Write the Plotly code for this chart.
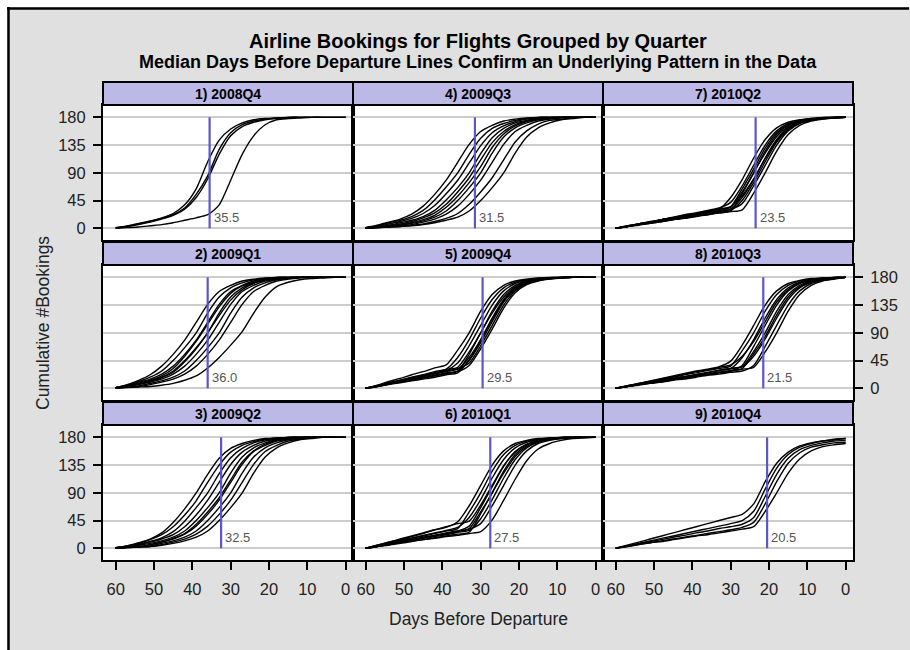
import plotly.graph_objects as go

# ---- data -------------------------------------------------------------
days = [60, 57, 54, 51, 48, 45, 42, 39, 36, 33, 30, 27, 24, 21, 18, 15, 12, 9, 6, 3, 0]

quarters = ["2008Q4", "2009Q1", "2009Q2", "2009Q3", "2009Q4",
            "2010Q1", "2010Q2", "2010Q3", "2010Q4"]

# median day on which a flight reaches half of its bookings
medians = [35.5, 36.0, 32.5, 31.5, 29.5, 27.5, 23.5, 21.5, 20.5]

y_ticks = [0, 45, 90, 135, 180]
x_ticks = [60, 50, 40, 30, 20, 10, 0]

bookings_2008Q4 = [
    [1, 4, 8, 12, 17, 24, 38, 64, 108, 143, 161, 171, 176, 178, 179, 180, 180, 180, 180, 180, 180],
    [1, 3, 7, 11, 16, 22, 33, 55, 85, 128, 155, 168, 174, 177, 179, 180, 180, 180, 180, 180, 180],
    [0, 3, 6, 10, 15, 21, 31, 50, 80, 120, 150, 165, 172, 176, 178, 179, 180, 180, 180, 180, 180],
    [0, 1, 2, 4, 6, 9, 13, 17, 22, 38, 78, 120, 150, 168, 176, 178, 179, 180, 180, 180, 180],
]

bookings_2009Q1 = [
    [1, 6, 13, 22, 36, 55, 78, 107, 136, 157, 167, 174, 177, 179, 180, 180, 180, 180, 180, 180, 180],
    [1, 5, 11, 18, 28, 45, 66, 90, 122, 148, 163, 171, 176, 178, 180, 180, 180, 180, 180, 180, 180],
    [1, 5, 10, 15, 23, 36, 55, 78, 107, 136, 157, 167, 174, 177, 179, 180, 180, 180, 180, 180, 180],
    [0, 4, 8, 13, 20, 32, 52, 76, 104, 132, 154, 166, 172, 176, 178, 179, 180, 180, 180, 180, 180],
    [1, 4, 8, 12, 18, 28, 45, 66, 90, 122, 148, 163, 171, 176, 178, 180, 180, 180, 180, 180, 180],
    [0, 3, 7, 11, 17, 26, 43, 64, 90, 118, 143, 160, 170, 175, 178, 179, 180, 180, 180, 180, 180],
    [1, 3, 6, 10, 15, 23, 36, 55, 78, 107, 136, 157, 167, 174, 177, 179, 180, 180, 180, 180, 180],
    [1, 2, 4, 8, 12, 18, 28, 45, 66, 90, 122, 148, 163, 171, 176, 178, 180, 180, 180, 180, 180],
    [0, 2, 3, 6, 10, 15, 23, 36, 55, 78, 107, 136, 157, 167, 174, 177, 179, 180, 180, 180, 180],
    [0, 1, 2, 3, 5, 8, 13, 20, 33, 50, 70, 92, 122, 148, 165, 172, 176, 178, 179, 180, 180],
]

bookings_2009Q2 = [
    [1, 4, 9, 15, 25, 42, 64, 90, 120, 146, 162, 170, 175, 178, 179, 180, 180, 180, 180, 180, 180],
    [1, 4, 8, 14, 22, 35, 54, 77, 107, 135, 156, 167, 173, 177, 179, 180, 180, 180, 180, 180, 180],
    [0, 3, 7, 11, 17, 27, 44, 66, 90, 121, 147, 162, 171, 176, 178, 180, 180, 180, 180, 180, 180],
    [1, 3, 6, 10, 15, 22, 35, 54, 78, 107, 136, 156, 167, 174, 177, 179, 180, 180, 180, 180, 180],
    [0, 2, 5, 8, 12, 18, 28, 45, 66, 90, 122, 148, 163, 171, 176, 178, 180, 180, 180, 180, 180],
    [1, 2, 3, 6, 10, 16, 24, 39, 59, 82, 111, 140, 158, 169, 175, 178, 180, 180, 180, 180, 180],
    [0, 2, 3, 6, 10, 15, 23, 36, 55, 78, 107, 136, 157, 167, 174, 177, 179, 180, 180, 180, 180],
    [0, 1, 2, 4, 8, 12, 18, 28, 45, 66, 90, 122, 148, 163, 171, 176, 178, 180, 180, 180, 180],
    [0, 1, 2, 3, 6, 10, 15, 23, 36, 55, 78, 107, 136, 157, 167, 174, 177, 179, 180, 180, 180],
    [0, 1, 2, 3, 5, 8, 12, 18, 28, 45, 66, 90, 122, 148, 163, 171, 176, 178, 180, 180, 180],
]

bookings_2009Q3 = [
    [1, 5, 10, 15, 23, 36, 55, 78, 107, 136, 157, 167, 174, 177, 179, 180, 180, 180, 180, 180, 180],
    [1, 4, 9, 13, 19, 29, 46, 67, 90, 120, 146, 162, 170, 175, 178, 180, 180, 180, 180, 180, 180],
    [1, 3, 7, 11, 16, 24, 37, 56, 78, 106, 134, 155, 166, 173, 177, 179, 180, 180, 180, 180, 180],
    [0, 3, 5, 9, 13, 19, 29, 46, 66, 90, 121, 147, 162, 171, 175, 178, 180, 180, 180, 180, 180],
    [1, 2, 4, 7, 11, 17, 25, 39, 59, 82, 111, 139, 157, 168, 174, 177, 179, 180, 180, 180, 180],
    [0, 2, 3, 5, 9, 14, 21, 34, 52, 74, 100, 131, 153, 166, 173, 177, 179, 180, 180, 180, 180],
    [0, 1, 3, 5, 8, 12, 18, 28, 45, 66, 90, 122, 148, 163, 171, 176, 178, 180, 180, 180, 180],
    [0, 1, 2, 4, 6, 10, 15, 23, 36, 55, 78, 107, 136, 157, 167, 174, 177, 179, 180, 180, 180],
    [0, 1, 2, 3, 5, 7, 11, 16, 24, 39, 59, 82, 111, 140, 158, 169, 175, 177, 179, 180, 180],
    [0, 1, 2, 3, 4, 6, 9, 13, 18, 28, 45, 66, 90, 122, 148, 163, 171, 176, 178, 180, 180],
]

bookings_2009Q4 = [
    [0, 5, 11, 16, 22, 27, 33, 38, 62, 90, 125, 152, 167, 174, 177, 179, 180, 180, 180, 180, 180],
    [0, 4, 9, 13, 18, 22, 27, 31, 50, 79, 114, 144, 163, 172, 176, 178, 179, 180, 180, 180, 180],
    [0, 4, 8, 12, 17, 21, 25, 29, 41, 69, 102, 135, 158, 170, 175, 178, 179, 180, 180, 180, 180],
    [0, 4, 8, 13, 17, 21, 25, 30, 34, 59, 90, 125, 152, 167, 174, 177, 179, 180, 180, 180, 180],
    [0, 3, 7, 10, 14, 17, 21, 25, 28, 55, 90, 122, 148, 165, 173, 177, 179, 180, 180, 180, 180],
    [0, 4, 8, 11, 15, 19, 23, 27, 31, 50, 79, 114, 144, 163, 172, 176, 178, 180, 180, 180, 180],
    [0, 3, 6, 9, 12, 15, 18, 22, 25, 46, 78, 112, 142, 162, 171, 176, 178, 179, 180, 180, 180],
    [0, 3, 7, 10, 14, 17, 21, 24, 28, 45, 74, 108, 140, 160, 171, 175, 178, 179, 180, 180, 180],
    [0, 4, 8, 12, 16, 20, 24, 28, 32, 41, 69, 102, 135, 158, 170, 175, 178, 179, 180, 180, 180],
    [0, 3, 7, 10, 13, 17, 20, 24, 27, 37, 64, 96, 130, 155, 168, 174, 177, 179, 180, 180, 180],
]

bookings_2010Q1 = [
    [0, 5, 10, 15, 20, 25, 30, 34, 43, 69, 102, 135, 158, 170, 175, 178, 179, 180, 180, 180, 180],
    [0, 4, 8, 12, 16, 20, 24, 28, 32, 59, 90, 125, 152, 167, 174, 177, 179, 180, 180, 180, 180],
    [0, 4, 8, 13, 17, 21, 25, 29, 34, 50, 79, 114, 144, 163, 172, 176, 178, 180, 180, 180, 180],
    [0, 3, 7, 10, 14, 17, 21, 24, 28, 36, 66, 100, 133, 157, 169, 175, 178, 179, 180, 180, 180],
    [0, 5, 10, 14, 19, 24, 30, 35, 40, 44, 70, 102, 134, 156, 168, 174, 177, 179, 180, 180, 180],
    [0, 4, 7, 11, 14, 18, 21, 25, 28, 32, 59, 90, 125, 152, 167, 174, 177, 179, 180, 180, 180],
    [0, 3, 6, 9, 12, 14, 17, 20, 23, 26, 56, 90, 122, 149, 165, 173, 177, 179, 180, 180, 180],
    [0, 3, 6, 10, 13, 16, 19, 22, 26, 29, 48, 79, 114, 144, 163, 172, 176, 178, 180, 180, 180],
    [0, 3, 7, 10, 14, 17, 20, 24, 27, 31, 40, 69, 102, 135, 158, 170, 175, 178, 179, 180, 180],
    [0, 3, 5, 8, 11, 14, 16, 19, 21, 24, 27, 46, 78, 112, 142, 161, 170, 175, 178, 179, 180],
]

bookings_2010Q2 = [
    [0, 3, 7, 10, 14, 17, 21, 24, 27, 31, 50, 79, 114, 144, 163, 172, 176, 178, 180, 180, 180],
    [0, 4, 7, 11, 14, 18, 22, 25, 29, 33, 42, 69, 102, 135, 158, 170, 175, 178, 179, 180, 180],
    [0, 3, 6, 9, 12, 15, 18, 22, 25, 28, 35, 64, 96, 130, 155, 168, 174, 177, 179, 180, 180],
    [0, 3, 7, 10, 14, 17, 20, 24, 27, 31, 34, 59, 90, 125, 152, 167, 174, 177, 179, 180, 180],
    [0, 3, 6, 8, 11, 14, 17, 20, 22, 25, 28, 56, 90, 122, 149, 165, 173, 177, 179, 180, 180],
    [0, 3, 6, 9, 12, 15, 19, 22, 25, 28, 31, 50, 79, 114, 144, 163, 172, 176, 178, 180, 180],
    [0, 4, 7, 10, 14, 17, 21, 24, 28, 31, 35, 53, 80, 113, 142, 162, 171, 176, 178, 179, 180],
    [0, 3, 6, 9, 11, 14, 17, 20, 23, 26, 29, 45, 74, 108, 140, 160, 171, 175, 178, 179, 180],
    [0, 3, 6, 9, 12, 15, 19, 22, 25, 28, 31, 40, 69, 102, 135, 158, 170, 175, 178, 179, 180],
    [0, 3, 5, 8, 11, 14, 16, 19, 22, 25, 27, 30, 57, 90, 125, 152, 167, 174, 177, 179, 180],
]

bookings_2010Q3 = [
    [0, 4, 8, 12, 16, 20, 24, 28, 31, 35, 44, 70, 102, 135, 158, 170, 175, 178, 179, 180, 180],
    [0, 4, 7, 11, 14, 18, 22, 25, 29, 32, 36, 61, 90, 125, 152, 167, 174, 177, 179, 180, 180],
    [0, 3, 6, 10, 13, 16, 19, 22, 26, 29, 32, 50, 79, 114, 144, 163, 172, 176, 178, 180, 180],
    [0, 4, 8, 11, 15, 19, 23, 27, 30, 34, 38, 52, 76, 108, 140, 160, 171, 175, 178, 179, 180],
    [0, 3, 6, 8, 11, 14, 17, 20, 22, 25, 28, 37, 68, 102, 135, 158, 170, 175, 178, 179, 180],
    [0, 3, 6, 10, 13, 16, 19, 22, 25, 29, 32, 35, 60, 90, 125, 152, 167, 174, 177, 179, 180],
    [0, 3, 6, 9, 11, 14, 17, 20, 23, 26, 29, 32, 56, 84, 119, 148, 165, 173, 176, 178, 180],
    [0, 3, 6, 10, 13, 16, 19, 22, 25, 29, 32, 35, 52, 80, 114, 144, 163, 172, 176, 178, 180],
    [0, 3, 5, 8, 10, 13, 15, 18, 21, 23, 26, 28, 37, 68, 102, 135, 158, 170, 175, 178, 180],
    [0, 3, 6, 9, 11, 14, 17, 20, 23, 26, 28, 31, 34, 59, 90, 125, 152, 167, 174, 177, 180],
]

bookings_2010Q4 = [
    [0, 5, 10, 15, 20, 25, 30, 35, 40, 45, 50, 55, 72, 108, 138, 156, 166, 171, 174, 176, 178],
    [0, 4, 8, 12, 16, 20, 24, 28, 32, 36, 40, 45, 60, 96, 130, 152, 164, 170, 174, 177, 178],
    [0, 4, 7, 11, 14, 18, 21, 25, 28, 32, 35, 39, 50, 84, 120, 146, 160, 167, 171, 174, 175],
    [0, 3, 6, 9, 12, 15, 18, 21, 24, 27, 30, 34, 42, 72, 108, 138, 155, 164, 168, 171, 172],
    [0, 3, 6, 9, 11, 14, 17, 20, 22, 25, 28, 31, 35, 60, 90, 122, 145, 158, 165, 168, 170],
]

panels = [bookings_2008Q4, bookings_2009Q1, bookings_2009Q2,
          bookings_2009Q3, bookings_2009Q4, bookings_2010Q1,
          bookings_2010Q2, bookings_2010Q3, bookings_2010Q4]

# ---- layout helpers ---------------------------------------------------
W, H = 910, 650
FONT = "Liberation Sans, Arial, sans-serif"
STRIP = "#bdb9e6"
MEDIAN_COLOR = "#5e56c8"
GRID = "#cdcdcd"
TICK_SIZE = 16.5


def fx(p):
    return p / W


def fy(p):
    return 1 - p / H


GRID_LEFT, CELL_W = 103, 250
ROW_TOP, ROW_STEP, STRIP_H, PLOT_H = 82, 160, 23, 135

fig = go.Figure()
shapes = []
annotations = []
layout_axes = {}

for i, (quarter, curves, med) in enumerate(zip(quarters, panels, medians)):
    col, row = divmod(i, 3)
    n = i + 1
    xname = "x" if n == 1 else f"x{n}"
    yname = "y" if n == 1 else f"y{n}"

    x0 = GRID_LEFT + col * CELL_W
    x1 = x0 + CELL_W
    s0 = ROW_TOP + row * ROW_STEP
    p0 = s0 + STRIP_H
    p1 = p0 + PLOT_H

    for c in curves:
        fig.add_trace(go.Scatter(
            x=days, y=c, mode="lines", xaxis=xname, yaxis=yname,
            line=dict(color="black", width=1.4, shape="spline", smoothing=0.7),
            hoverinfo="skip", showlegend=False))

    fig.add_trace(go.Scatter(
        x=[med, med], y=[0, 180], mode="lines", xaxis=xname, yaxis=yname,
        line=dict(color=MEDIAN_COLOR, width=2.2),
        hoverinfo="skip", showlegend=False))

    annotations.append(dict(
        x=med, y=0, xref=xname, yref=yname, text=f"{med:.1f}",
        showarrow=False, xanchor="left", yanchor="bottom", xshift=2, yshift=1,
        font=dict(family=FONT, size=13, color="#555555")))

    # header strip
    shapes.append(dict(type="rect", xref="paper", yref="paper",
                       x0=fx(x0), x1=fx(x1), y0=fy(p0), y1=fy(s0),
                       fillcolor=STRIP, line=dict(color="black", width=2),
                       layer="above"))
    annotations.append(dict(
        x=fx((x0 + x1) / 2), y=fy((s0 + p0) / 2), xref="paper", yref="paper",
        text=f"<b>{n}) {quarter}</b>", showarrow=False,
        xanchor="center", yanchor="middle",
        font=dict(family=FONT, size=14, color="black")))

    bottom_row = row == 2
    layout_axes["xaxis" if n == 1 else f"xaxis{n}"] = dict(
        domain=[fx(x0), fx(x1)], anchor=yname, range=[63.3, -1.9],
        showline=True, mirror=True, linecolor="black", linewidth=2,
        showgrid=False, zeroline=False,
        tickmode="array", tickvals=x_ticks,
        ticks="outside" if bottom_row else "", ticklen=8, tickwidth=1.5,
        tickcolor="black", showticklabels=bottom_row, ticklabelstandoff=5,
        tickfont=dict(family=FONT, size=TICK_SIZE, color="#222222"))

    left_labels = col == 0 and row in (0, 2)
    right_labels = col == 2 and row == 1
    show_y = left_labels or right_labels
    layout_axes["yaxis" if n == 1 else f"yaxis{n}"] = dict(
        domain=[fy(p1), fy(p0)], anchor=xname, range=[-19, 200],
        side="right" if right_labels else "left",
        showline=True, mirror=True, linecolor="black", linewidth=2,
        showgrid=True, gridcolor=GRID, gridwidth=1.6, zeroline=False,
        tickmode="array", tickvals=y_ticks,
        ticks="outside" if show_y else "", ticklen=8, tickwidth=1.5,
        tickcolor="black", showticklabels=show_y, ticklabelstandoff=4,
        tickfont=dict(family=FONT, size=TICK_SIZE, color="#222222"))

# titles
annotations.append(dict(
    x=fx(478), y=fy(41), xref="paper", yref="paper",
    text="<b>Airline Bookings for Flights Grouped by Quarter</b>",
    showarrow=False, xanchor="center", yanchor="middle",
    font=dict(family=FONT, size=20, color="black")))
annotations.append(dict(
    x=fx(478), y=fy(62), xref="paper", yref="paper",
    text="<b>Median Days Before Departure Lines Confirm an Underlying Pattern in the Data</b>",
    showarrow=False, xanchor="center", yanchor="middle",
    font=dict(family=FONT, size=18, color="black")))

# axis titles
annotations.append(dict(
    x=fx(43), y=fy(323), xref="paper", yref="paper",
    text="Cumulative #Bookings", textangle=-90,
    showarrow=False, xanchor="center", yanchor="middle",
    font=dict(family=FONT, size=17.5, color="#222222")))
annotations.append(dict(
    x=fx(478), y=fy(619), xref="paper", yref="paper",
    text="Days Before Departure",
    showarrow=False, xanchor="center", yanchor="middle",
    font=dict(family=FONT, size=17.5, color="#222222")))

# outer frame: white edge with a black rule along top and left
shapes.extend([
    dict(type="rect", xref="paper", yref="paper", x0=0, x1=1, y0=fy(7), y1=1,
         fillcolor="white", line=dict(width=0), layer="below"),
    dict(type="rect", xref="paper", yref="paper", x0=0, x1=fx(7), y0=0, y1=1,
         fillcolor="white", line=dict(width=0), layer="below"),
    dict(type="line", xref="paper", yref="paper", x0=fx(7), x1=fx(909),
         y0=fy(8.5), y1=fy(8.5), line=dict(color="black", width=2.5)),
    dict(type="line", xref="paper", yref="paper", x0=fx(8.5), x1=fx(8.5),
         y0=0, y1=fy(7), line=dict(color="black", width=2.5)),
])

fig.update_layout(
    width=W, height=H,
    margin=dict(l=0, r=0, t=0, b=0, autoexpand=False),
    paper_bgcolor="#e0e0e0", plot_bgcolor="white",
    shapes=shapes, annotations=annotations,
    showlegend=False,
    **layout_axes,
)

fig.write_html("out.html", config={"displayModeBar": False})
